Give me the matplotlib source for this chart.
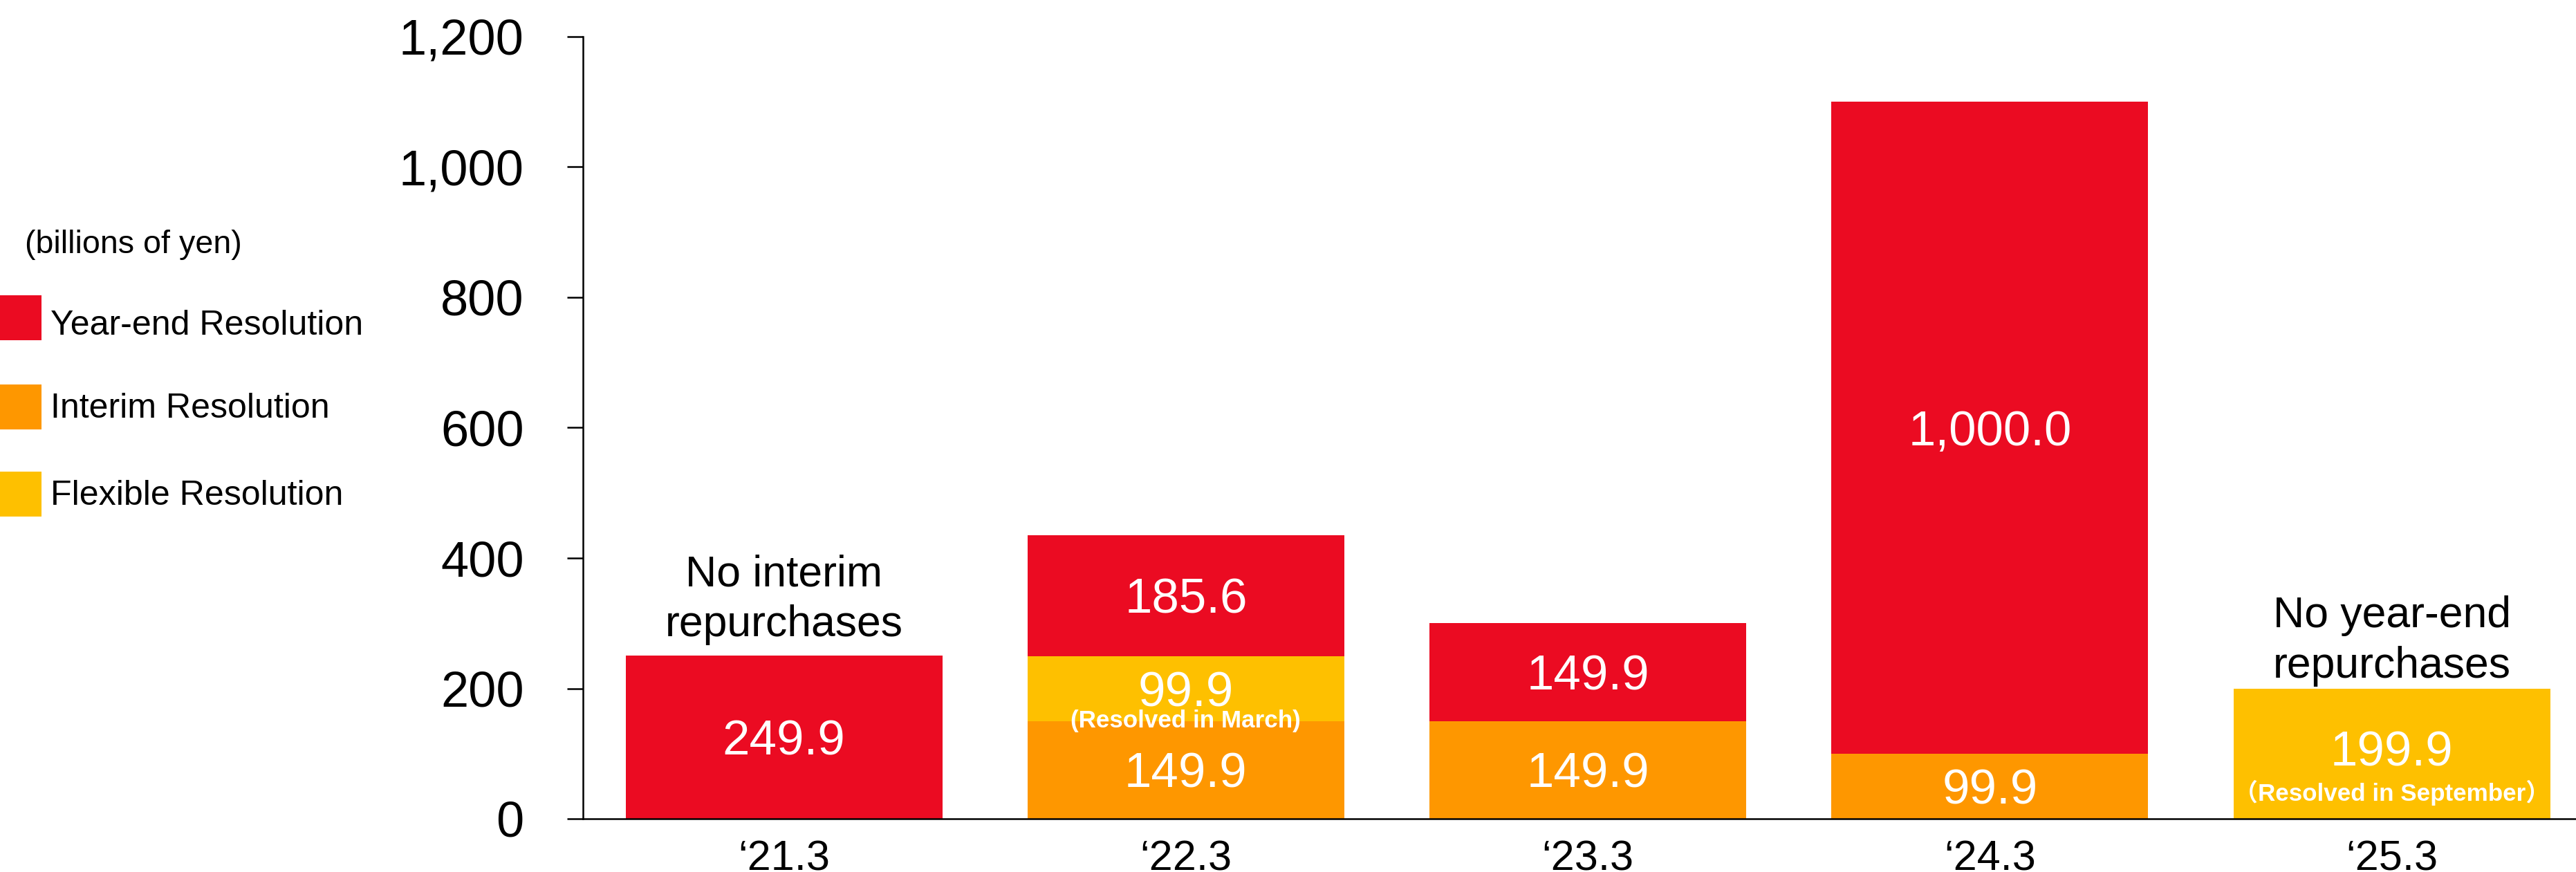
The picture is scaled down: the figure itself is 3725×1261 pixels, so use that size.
import matplotlib
matplotlib.use('Agg')
import matplotlib.pyplot as plt
from matplotlib import font_manager
from matplotlib.patches import Rectangle
from matplotlib.ticker import FuncFormatter
import numpy as np

# ---------------- data ----------------
categories = ['\u201821.3', '\u201822.3', '\u201823.3', '\u201824.3', '\u201825.3']
year_end = [249.9, 185.6, 149.9, 1000.0, 0.0]
interim = [0.0, 149.9, 149.9, 99.9, 0.0]
flexible = [0.0, 99.9, 0.0, 0.0, 199.9]
y_ticks = [0, 200, 400, 600, 800, 1000, 1200]
unit_label = '(billions of yen)'
series_names = ['Year-end Resolution', 'Interim Resolution', 'Flexible Resolution']
note_idx = [0, 4]
note_text = ['No interim\nrepurchases', 'No year-end\nrepurchases']
sub_idx = [1, 4]
sub_text = ['(Resolved in March)', '\uff08Resolved in September\uff09']

# ---------------- style ----------------
RED = '#EB0B22'
ORANGE = '#FE9700'
YELLOW = '#FEC000'
W, H = 3725, 1261
DPI = 100

plt.rcParams['font.family'] = ['Liberation Sans', 'DejaVu Sans']

_names = {f.name for f in font_manager.fontManager.ttflist}
HAS_NARROW = 'Liberation Sans Narrow' in _names


def narrow(size, **kw):
    if HAS_NARROW:
        d = dict(family=['Liberation Sans Narrow', 'Noto Sans CJK JP'], fontsize=size)
    else:
        d = dict(family=['Liberation Sans', 'Noto Sans CJK JP'], fontsize=size * 0.84)
    d.update(kw)
    return d


fig = plt.figure(figsize=(W / DPI, H / DPI), dpi=DPI)
ax_left, ax_bottom_px, ax_top_px = 843, 1184, 53
ax = fig.add_axes([ax_left / W, 1 - ax_bottom_px / H, (W - ax_left) / W,
                   (ax_bottom_px - ax_top_px) / H])

x = np.arange(len(categories))
inter = np.array(interim)
flex = np.array(flexible)
yend = np.array(year_end)
bw = 0.788

ax.bar(x, inter, width=bw, color=ORANGE, linewidth=0)
ax.bar(x, flex, width=bw, bottom=inter, color=YELLOW, linewidth=0)
ax.bar(x, yend, width=bw, bottom=inter + flex, color=RED, linewidth=0)

ax.set_xlim(-0.5, -0.5 + (W - ax_left) / 581.25)
ax.set_ylim(0, 1200)

# value labels
segments = [(inter, np.zeros_like(inter)), (flex, inter), (yend, inter + flex)]
for s, (vals, bots) in enumerate(segments):
    for i, v in enumerate(vals):
        if v <= 0:
            continue
        yc = bots[i] + v / 2
        if s == 1 and i in sub_idx and bots[i] == 0:
            yc = bots[i] + v * 0.54
        ax.text(x[i], yc, f'{v:,.1f}', color='white', fontsize=51,
                ha='center', va='center_baseline')

# sub notes (resolved in ...)
for i, t in zip(sub_idx, sub_text):
    if inter[i] > 0:
        yc = inter[i]
    else:
        yc = flex[i] * 0.2
    ax.text(x[i], yc, t, color='white', ha='center', va='center',
            **narrow(30, fontweight='bold'))

# notes above bars
totals = inter + flex + yend
note_off = [11, 2]
for i, t, off in zip(note_idx, note_text, note_off):
    ax.annotate(t, xy=(x[i], totals[i]), xytext=(0, off), textcoords='offset points',
                ha='center', va='bottom', fontsize=45, linespacing=1.3)

# axes styling
ax.set_xticks(x, categories)
ax.set_yticks(y_ticks)
ax.yaxis.set_major_formatter(FuncFormatter(lambda v, p: f'{v:,.0f}'))
ax.tick_params(axis='x', length=0, pad=22, labelsize=44)
ax.tick_params(axis='y', length=16.5, width=1.8, pad=45, labelsize=52)
for sp in ['top', 'right']:
    ax.spines[sp].set_visible(False)
for sp in ['left', 'bottom']:
    ax.spines[sp].set_linewidth(1.8)
    ax.spines[sp].set_color('black')

# legend (manual)
fig.text(36 / W, 1 - 366 / H, unit_label, ha='left', va='baseline', **narrow(40))
leg_colors = [RED, ORANGE, YELLOW]
sq_bottom_px = [492, 621, 747]
txt_base_px = [484, 604, 730]
for name, c, sb, tb in zip(series_names, leg_colors, sq_bottom_px, txt_base_px):
    fig.patches.append(Rectangle((0, 1 - sb / H), 60 / W, 65 / H,
                                 transform=fig.transFigure, color=c, linewidth=0))
    fig.text(73 / W, 1 - tb / H, name, ha='left', va='baseline', **narrow(43))

fig.savefig('out.png', dpi=DPI)
